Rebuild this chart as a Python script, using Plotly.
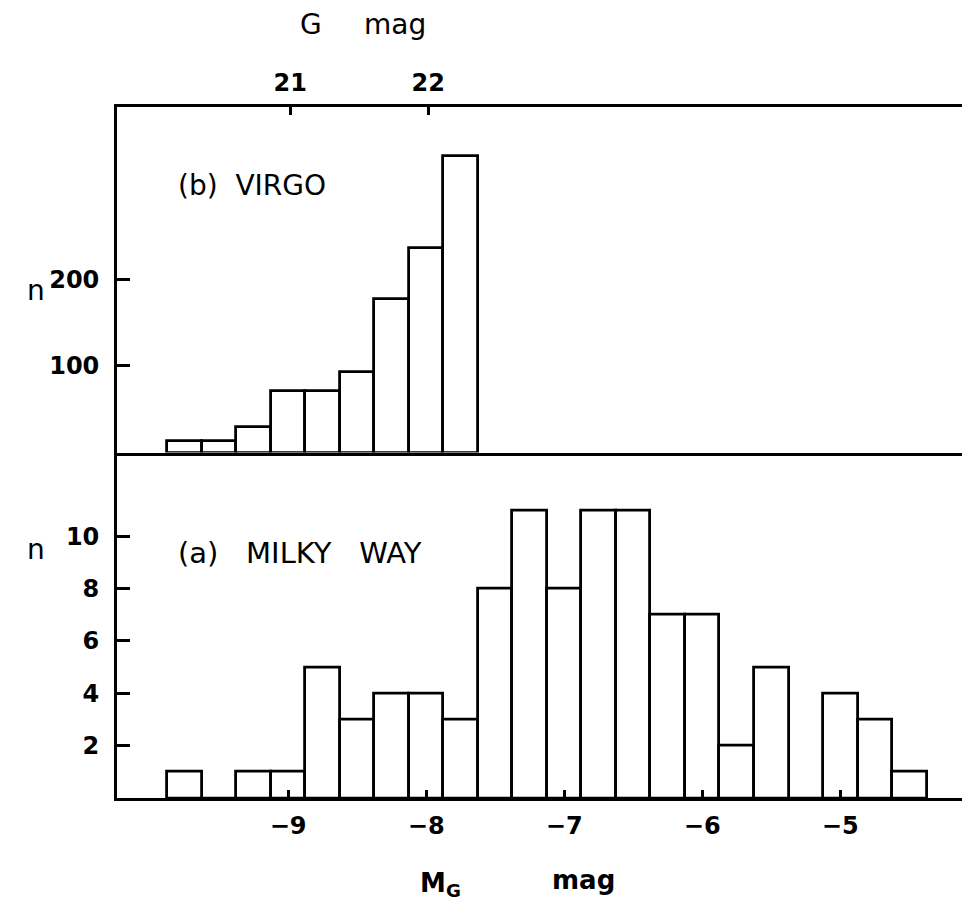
import plotly.graph_objects as go

# ---- data ----
# bin centres (M_G, mag), bin width 0.25 mag
mw_centers = [-9.75, -9.5, -9.25, -9.0, -8.75, -8.5, -8.25, -8.0, -7.75, -7.5, -7.25,
              -7.0, -6.75, -6.5, -6.25, -6.0, -5.75, -5.5, -5.25, -5.0, -4.75, -4.5]
mw_counts = [1, 0, 1, 1, 5, 3, 4, 4, 3, 8, 11, 8, 11, 11, 7, 7, 2, 5, 0, 4, 3, 1]

virgo_centers = [-9.75, -9.5, -9.25, -9.0, -8.75, -8.5, -8.25, -8.0, -7.75]
virgo_counts = [13, 13, 30, 71, 71, 93, 177, 236, 342]

bin_width = 0.25
mg_ticks = [-9, -8, -7, -6, -5]
mw_yticks = [2, 4, 6, 8, 10]
virgo_yticks = [100, 200]
g_ticks = [21, 22]
g_offset = 29.985  # G = M_G + offset

x_range = [-10.24, -4.06]

FONT = "DejaVu Sans"
LW = 2.8
PAGE = 8  # default body margin of the html page

fig = go.Figure()

fig.add_trace(go.Bar(
    x=mw_centers, y=mw_counts, width=bin_width,
    marker=dict(color="white", line=dict(color="black", width=LW)),
    xaxis="x", yaxis="y", showlegend=False, hoverinfo="x+y"))

fig.add_trace(go.Bar(
    x=virgo_centers, y=virgo_counts, width=bin_width,
    marker=dict(color="white", line=dict(color="black", width=LW)),
    xaxis="x2", yaxis="y2", showlegend=False, hoverinfo="x+y"))

# helper trace to activate the top G-mag axis
fig.add_trace(go.Scatter(x=g_ticks, y=[None] * len(g_ticks), xaxis="x3", yaxis="y2",
                         mode="markers", showlegend=False, hoverinfo="skip"))

tickfont = dict(family=FONT, size=24, color="black", weight="bold")

fig.update_layout(
    width=970 - PAGE, height=910 - PAGE,
    margin=dict(l=117 - PAGE, r=0, t=107 - PAGE, b=910 - PAGE - (107 - PAGE) - 691),
    paper_bgcolor="white", plot_bgcolor="white",
    bargap=0,
    xaxis=dict(domain=[0, 1], range=x_range, anchor="y",
               showline=True, linecolor="black", linewidth=LW, showgrid=False, zeroline=False,
               tickvals=mg_ticks, ticks="inside", ticklen=8, tickwidth=LW, tickcolor="black",
               tickfont=tickfont, ticklabelstandoff=4),
    yaxis=dict(domain=[0, 0.5], range=[0, 13.2], anchor="x",
               showline=True, linecolor="black", linewidth=LW, showgrid=False, zeroline=False,
               tickvals=mw_yticks, ticks="inside", ticklen=13, tickwidth=LW, tickcolor="black",
               tickfont=tickfont, ticklabelstandoff=10),
    xaxis2=dict(domain=[0, 1], range=x_range, anchor="y2", matches="x",
                showline=True, linecolor="black", linewidth=LW, showgrid=False, zeroline=False,
                showticklabels=False, ticks=""),
    yaxis2=dict(domain=[0.5, 1], range=[0, 399], anchor="x2",
                showline=True, linecolor="black", linewidth=LW, showgrid=False, zeroline=False,
                tickvals=virgo_yticks, ticks="inside", ticklen=13, tickwidth=LW, tickcolor="black",
                tickfont=tickfont, ticklabelstandoff=10),
    xaxis3=dict(overlaying="x2", side="top", anchor="y2",
                range=[x_range[0] + g_offset, x_range[1] + g_offset],
                showline=True, linecolor="black", linewidth=LW, showgrid=False, zeroline=False,
                tickvals=g_ticks, ticks="inside", ticklen=8, tickwidth=LW, tickcolor="black",
                tickfont=tickfont, ticklabelstandoff=4),
)

ann_font = dict(family=FONT, size=28, color="black")
bold_font = dict(family=FONT, size=26, color="black", weight="bold")

def px_x(p):
    return (p - 117) / 853.0

def px_y(p):
    return (798 - p) / 691.0

annotations = [
    dict(text="(b)\u00a0\u00a0VIRGO", x=px_x(176), y=px_y(186), xanchor="left", yanchor="middle", font=ann_font),
    dict(text="(a)\u00a0\u00a0\u00a0MILKY\u00a0\u00a0\u00a0WAY", x=px_x(176), y=px_y(553),
         xanchor="left", yanchor="middle", font=dict(family=FONT, size=29, color="black")),
    dict(text="n", x=px_x(36), y=px_y(290), xanchor="center", yanchor="middle", font=ann_font),
    dict(text="n", x=px_x(36), y=px_y(549), xanchor="center", yanchor="middle", font=ann_font),
    dict(text="G", x=px_x(311), y=px_y(24), xanchor="center", yanchor="middle", font=ann_font),
    dict(text="mag", x=px_x(395), y=px_y(24), xanchor="center", yanchor="middle", font=ann_font),
    dict(text="M<sub>G</sub>", x=px_x(440), y=px_y(884), xanchor="center", yanchor="middle", font=bold_font),
    dict(text="mag", x=px_x(583), y=px_y(880), xanchor="center", yanchor="middle", font=bold_font),
]
for a in annotations:
    a.update(xref="paper", yref="paper", showarrow=False)
fig.update_layout(annotations=annotations)

fig.write_html("out.html")
